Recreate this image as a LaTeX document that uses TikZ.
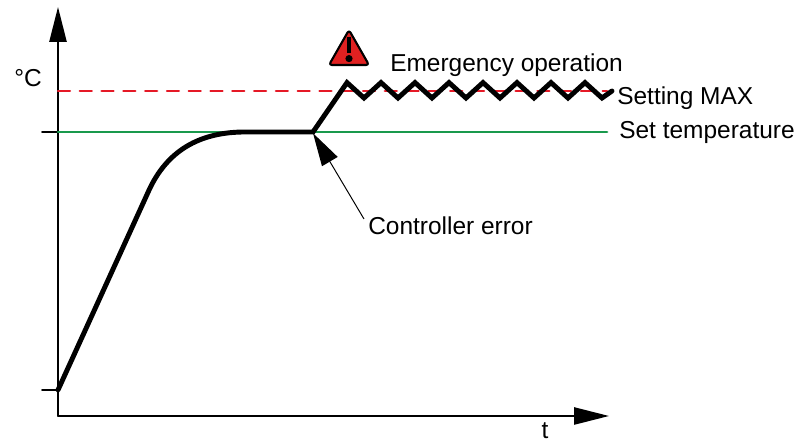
\documentclass[tikz,border=0pt]{standalone}
\usepackage{fontspec}
\setmainfont{Liberation Sans}
\usepackage{tikz}
\usepackage{xcolor}
\definecolor{setgreen}{rgb}{0.1,0.6,0.3}
\definecolor{maxred}{rgb}{0.9,0.1,0.15}
\definecolor{warnred}{rgb}{0.88,0.13,0.13}
\usetikzlibrary{arrows.meta}
\tikzset{
    axis/.style = {-{Triangle[length=0.875cm, width=0.43cm]}, line width=1.4pt},
    lbl/.style = {anchor=west, inner sep=0pt, font=\fontsize{17.4}{20}\selectfont},
    warning/.pic = {
    \draw[fill=warnred, line width=1.5pt, rounded corners=2pt] (-#1,0) -- (#1,0) -- (0,1.75*#1) -- cycle;
    \draw[line width=3.2pt, line cap=butt] (0,1.4*#1) -- (0,0.6*#1);
    \fill (0,0.32*#1) circle (0.09);
    }
}

\begin{document}
\begin{tikzpicture}[line cap=round,line join=round,x=1.0cm,y=1.0cm]
    \useasboundingbox (0,0) rectangle (19.875,11.025);

    % axes
    \draw [axis] (1.45,0.625) --(15.225,0.625);
    \draw [axis] (1.45,0.625) --(1.45,10.85);
    \draw [line width=1.4pt] (1.05,7.725) -- (1.45,7.725);
    \draw [line width=1.4pt] (1.05,1.275) -- (1.45,1.275);
    \node (unit) at (0.7,9.075) {\fontsize{17.4}{20}\selectfont °C};
    \node (time) at (13.625,0.27) {\fontsize{17.4}{20}\selectfont t};

    % limits
    \draw [setgreen, line width=2pt] (1.45,7.725) -- (15.175,7.725);
    \draw [maxred, line width=1.7pt, dash pattern=on 8.5pt off 7pt] (1.45,8.75) -- (15.175,8.75);
    \node[lbl] (maxlbl) at (15.425,8.575) {Setting MAX};
    \node[lbl] (setlbl) at (15.475,7.7) {Set temperature};

    % temperature curve
    \coordinate (fault) at (7.825,7.725);
    \draw [line width=3.5pt, line join=miter] (1.45,1.275) -- (3.75,6.325)
        .. controls (4.25,7.35) and (5.1,7.725) .. (6.125,7.725) -- (fault)
        \foreach \k in {0,...,7} { -- ({8.675+0.85*\k},8.96) -- ({9.1+0.85*\k},8.575) }
        -- (15.3,8.75);

    % emergency
    \path (8.725,9.4) pic {warning=0.5};
    \node[lbl] (emerg) at (9.75,9.4) {Emergency operation};

    % controller error
    \node[lbl] (err) at (9.2,5.375) {Controller error};
    \draw [-{Triangle[length=0.825cm, width=0.45cm]}, line width=0.7pt, line cap=butt]
        ([shift={(-0.1,0.175)}]err.west) -- ([yshift=-0.03cm]fault);
\end{tikzpicture}
\end{document}
